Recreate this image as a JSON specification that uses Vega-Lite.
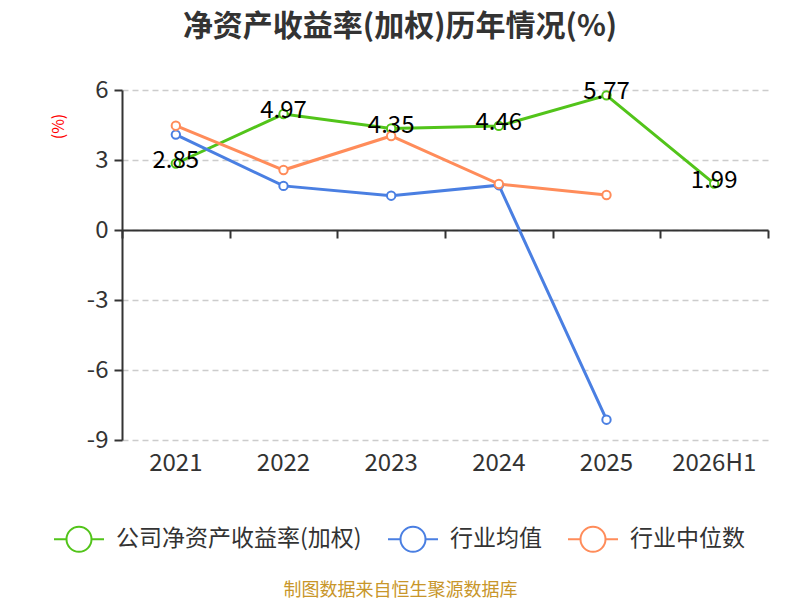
{
  "$schema": "https://vega.github.io/schema/vega-lite/v6.json",
  "width": 646,
  "height": 350,
  "autosize": "none",
  "padding": {"left": 122, "top": 90, "right": 32, "bottom": 160},
  "background": "white",
  "title": {
    "text": "净资产收益率(加权)历年情况(%)",
    "font": "Noto Sans CJK SC",
    "fontSize": 30,
    "fontWeight": "bold",
    "color": "#333333",
    "anchor": "middle",
    "frame": "group",
    "dx": -45,
    "offset": 36
  },
  "config": {
    "font": "Noto Sans CJK SC",
    "view": {"stroke": null}
  },
  "data": {
    "values": [
      {"year": "2021", "series": "公司净资产收益率(加权)", "value": 2.85},
      {"year": "2022", "series": "公司净资产收益率(加权)", "value": 4.97},
      {"year": "2023", "series": "公司净资产收益率(加权)", "value": 4.35},
      {"year": "2024", "series": "公司净资产收益率(加权)", "value": 4.46},
      {"year": "2025", "series": "公司净资产收益率(加权)", "value": 5.77},
      {"year": "2026H1", "series": "公司净资产收益率(加权)", "value": 1.99},
      {"year": "2021", "series": "行业均值", "value": 4.09},
      {"year": "2022", "series": "行业均值", "value": 1.89},
      {"year": "2023", "series": "行业均值", "value": 1.47},
      {"year": "2024", "series": "行业均值", "value": 1.92},
      {"year": "2025", "series": "行业均值", "value": -8.13},
      {"year": "2021", "series": "行业中位数", "value": 4.47},
      {"year": "2022", "series": "行业中位数", "value": 2.57},
      {"year": "2023", "series": "行业中位数", "value": 4.03},
      {"year": "2024", "series": "行业中位数", "value": 1.97},
      {"year": "2025", "series": "行业中位数", "value": 1.5}
    ]
  },
  "encoding": {
    "y": {
      "field": "value",
      "type": "quantitative",
      "scale": {"domain": [-9, 6], "nice": false, "zero": false},
      "axis": {
        "values": [-9, -6, -3, 0, 3, 6],
        "labelExpr": "replace(datum.label, '−', '-')",
        "title": "(%)",
        "titleColor": "red",
        "titleFontSize": 16,
        "titleFontWeight": "normal",
        "titleX": -64,
        "titleY": 36,
        "titleAngle": -90,
        "titleAlign": "center",
        "titleBaseline": "middle",
        "labelFontSize": 24,
        "labelColor": "#333333",
        "labelPadding": 6,
        "domainColor": "#333333",
        "domainWidth": 2,
        "tickColor": "#333333",
        "tickWidth": 2,
        "tickSize": 8,
        "grid": true,
        "gridColor": "#cccccc",
        "gridDash": [6, 4],
        "gridWidth": 1.5
      }
    },
    "color": {
      "field": "series",
      "type": "nominal",
      "scale": {
        "domain": ["公司净资产收益率(加权)", "行业均值", "行业中位数"],
        "range": ["#52c41a", "#4a7fe2", "#ff8c5a"]
      },
      "legend": {
        "title": null,
        "orient": "none",
        "direction": "horizontal",
        "legendX": -69,
        "legendY": 423,
        "symbolType": "M-1,0H-0.5M0.5,0H1M-0.5,0A0.5,0.5,0,1,1,0.5,0A0.5,0.5,0,1,1,-0.5,0",
        "symbolSize": 2500,
        "symbolStrokeWidth": 2,
        "labelFontSize": 23,
        "labelColor": "#333333",
        "labelOffset": 11,
        "labelLimit": 0,
        "columnPadding": 22,
        "encode": {
          "symbols": {"update": {"fill": {"value": "white"}, "fillOpacity": {"value": 1}}}
        }
      }
    }
  },
  "resolve": {"axis": {"x": "independent"}},
  "layer": [
    {
      "mark": {"type": "line", "strokeWidth": 3},
      "encoding": {
        "x": {
          "field": "year",
          "type": "ordinal",
          "scale": {"type": "band", "paddingInner": 0, "paddingOuter": 0},
          "axis": {
            "orient": "bottom",
            "domain": false,
            "ticks": false,
            "grid": false,
            "labelAngle": 0,
            "labelFontSize": 24,
            "labelColor": "#333333",
            "labelPadding": 11,
            "title": "制图数据来自恒生聚源数据库",
            "titleColor": "#c8962a",
            "titleFontSize": 18,
            "titleFontWeight": "normal",
            "titleX": 278,
            "titleY": 150,
            "titleAlign": "center",
            "titleBaseline": "middle"
          }
        }
      }
    },
    {
      "mark": {"type": "point", "filled": false, "fill": "white", "fillOpacity": 1, "strokeWidth": 2, "size": 70, "opacity": 1},
      "encoding": {
        "x": {"field": "year", "type": "ordinal", "axis": null}
      }
    },
    {
      "transform": [{"filter": "datum.series === '公司净资产收益率(加权)'"}],
      "mark": {"type": "text", "fontSize": 24, "color": "black", "baseline": "middle", "dy": -3},
      "encoding": {
        "x": {
          "field": "year",
          "type": "ordinal",
          "axis": {
            "orient": "bottom",
            "offset": -210,
            "labels": false,
            "title": null,
            "grid": false,
            "domain": true,
            "domainColor": "#333333",
            "domainWidth": 2,
            "ticks": true,
            "tickBand": "extent",
            "tickColor": "#333333",
            "tickWidth": 2,
            "tickSize": 8
          }
        },
        "text": {"field": "value", "type": "quantitative", "format": ".2f"},
        "color": {"value": "black"}
      }
    }
  ]
}
